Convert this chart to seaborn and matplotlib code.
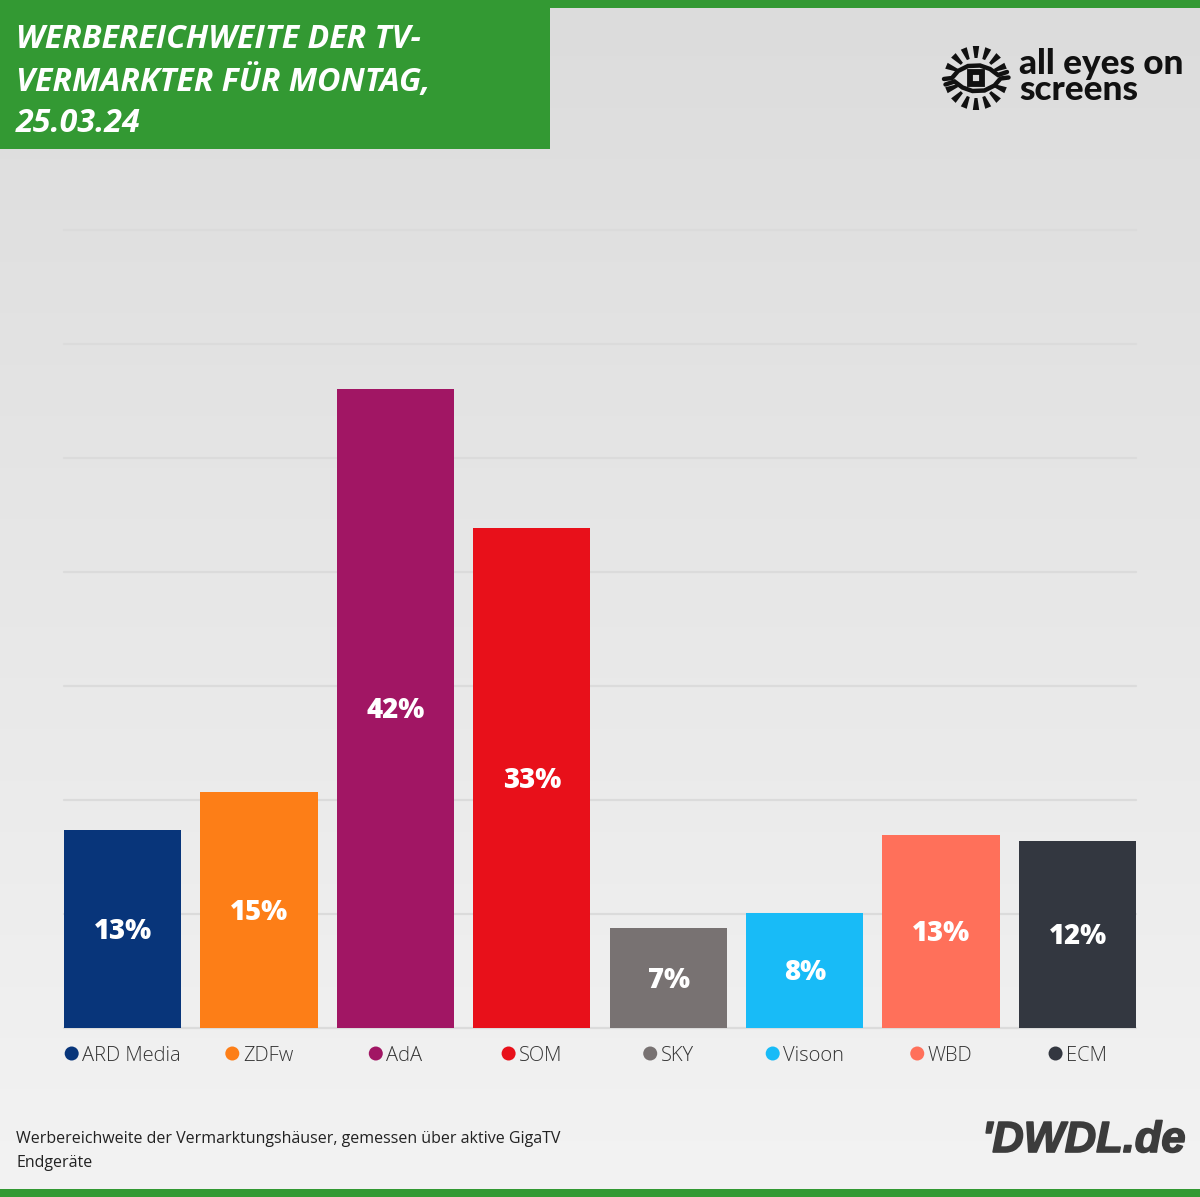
import numpy as np
import pandas as pd
import seaborn as sns
import matplotlib.pyplot as plt
import matplotlib.patheffects as pe
from matplotlib.patches import Rectangle, Circle, Polygon

# Werte
vermarkter = ["ARD Media", "ZDFw", "AdA", "SOM", "SKY", "Visoon", "WBD", "ECM"]
reichweite = [13.0, 15.5, 42.05, 32.9, 6.6, 7.55, 12.7, 12.3]
labels = ["13%", "15%", "42%", "33%", "7%", "8%", "13%", "12%"]
farben = ["#08357a", "#fd7e17", "#a11664", "#e8101a", "#787272", "#18bbf7", "#ff705a", "#333740"]
y_ticks = [0, 7.5, 15, 22.5, 30, 37.5, 45, 52.5]

df = pd.DataFrame({"vermarkter": vermarkter, "reichweite": reichweite})

sns.set_theme(style="white")
plt.rcParams["font.family"] = ["Open Sans", "DejaVu Sans"]

W, H = 1200, 1197
GRUEN = "#339933"
SCHWARZ = "#111111"
fig = plt.figure(figsize=(W / 100, H / 100), dpi=100)

# Hintergrund in Pixelkoordinaten
bg = fig.add_axes([0, 0, 1, 1], zorder=0)
bg.imshow(np.linspace(0, 1, 256).reshape(-1, 1), cmap=sns.blend_palette(["#dcdcdc", "#f3f3f3"], as_cmap=True),
          extent=[0, W, H, 0], aspect="auto", vmin=0, vmax=1)
bg.set_xlim(0, W)
bg.set_ylim(H, 0)
bg.axis("off")
bg.add_patch(Rectangle((0, 0), W, 8, color=GRUEN, lw=0))
bg.add_patch(Rectangle((0, 1189), W, 8, color=GRUEN, lw=0))
bg.add_patch(Rectangle((0, 0), 550, 149, color=GRUEN, lw=0))

titel = ["WERBEREICHWEITE DER TV-", "VERMARKTER FÜR MONTAG,", "25.03.24"]
for t, y in zip(titel, [40, 82.5, 123.5]):
    bg.text(16, y, t, color="white", fontsize=23.1, fontweight="bold", style="italic", va="center", ha="left")

bg.text(16, 1139, "Werbereichweite der Vermarktungshäuser, gemessen über aktive GigaTV",
        fontsize=11.5, color="#222222", va="center")
bg.text(16, 1163, "Endgeräte", fontsize=11.5, color="#222222", va="center")

bg.text(982, 1141, "'DWDL.de", family="Liberation Sans", fontsize=31.3, fontweight="bold", style="italic",
        color="#3c3c3c", va="center", ha="left",
        path_effects=[pe.withStroke(linewidth=1.2, foreground="#3c3c3c")])

# Logo
cx, cy = 976, 78
for a in np.arange(0, 360, 22.5):
    if a in (0, 180):
        continue
    r = np.deg2rad(a)
    n = np.array([np.cos(r), np.sin(r)])
    q = np.array([-n[1], n[0]])
    m = np.array([cx, cy])
    bg.add_patch(Polygon([m + 20 * n - 1.5 * q, m + 20 * n + 1.5 * q, m + 32 * n + 3.2 * q, m + 32 * n - 3.2 * q],
                         color=SCHWARZ, lw=0))
lid_x = [944, 952, 958, 968, 980, 990, 998, 1007]
lid_y = [79, 78, 71, 66, 65.5, 69, 75, 72]
bg.plot(lid_x, lid_y, color=SCHWARZ, lw=3.2, solid_joinstyle="miter")
bg.plot(2 * cx + 0.5 - np.array(lid_x), 2 * cy + 0.5 - np.array(lid_y), color=SCHWARZ, lw=3.2, solid_joinstyle="miter")
bg.add_patch(Rectangle((cx - 6, cy - 6), 12, 12, fc="none", ec=SCHWARZ, lw=4.2))
bg.text(1019, 77, "all eyes on\nscreens", family="Lato", fontsize=25.3, fontweight="black", color=SCHWARZ,
        va="center", ha="left", linespacing=0.78)

# Balken
ax = fig.add_axes([64 / W, 1 - 1028 / H, 1072 / W, 798 / H], zorder=1)
ax.patch.set_alpha(0)
sns.barplot(data=df, x="vermarkter", y="reichweite", hue="vermarkter", palette=farben,
            width=0.86, legend=False, saturation=1, linewidth=0, ax=ax, zorder=3)
ax.set_xlim(-0.43, 7.43)
ax.set_ylim(0, 52.5)
ax.set_yticks(y_ticks)
ax.grid(axis="y", color="#dbdbdb", lw=1.6, clip_on=False)
ax.set_axisbelow(True)
for g in ax.get_ygridlines():
    g.set_clip_on(False)
ax.set_xlabel("")
ax.set_ylabel("")
ax.set_xticks(range(len(vermarkter)))
ax.set_xticklabels([])
ax.tick_params(left=False, bottom=False, labelleft=False)
sns.despine(ax=ax, left=True, right=True, top=True, bottom=True)

for c, l in zip(ax.containers, labels):
    for t in ax.bar_label(c, labels=[l], label_type="center", color="white", fontsize=19.8, fontweight="heavy"):
        t.xyann = (0.3, -1.6)

# Legende unter den Balken, Punkt + Text zentriert
fig.canvas.draw()
renderer = fig.canvas.get_renderer()
for i, (name, farbe) in enumerate(zip(vermarkter, farben)):
    mitte = 64 + 58.5 + i * (1072 - 117) / 7
    txt = bg.text(0, 1056, name, fontsize=14.5, fontweight="light", color="#333333", va="center", ha="left")
    breite = txt.get_window_extent(renderer).width
    start = mitte - (breite + 18) / 2
    txt.set_x(start + 18)
    bg.add_patch(Circle((start + 7.5, 1053.5), 7, color=farbe, lw=0))

fig.savefig("out.png", dpi=100)
